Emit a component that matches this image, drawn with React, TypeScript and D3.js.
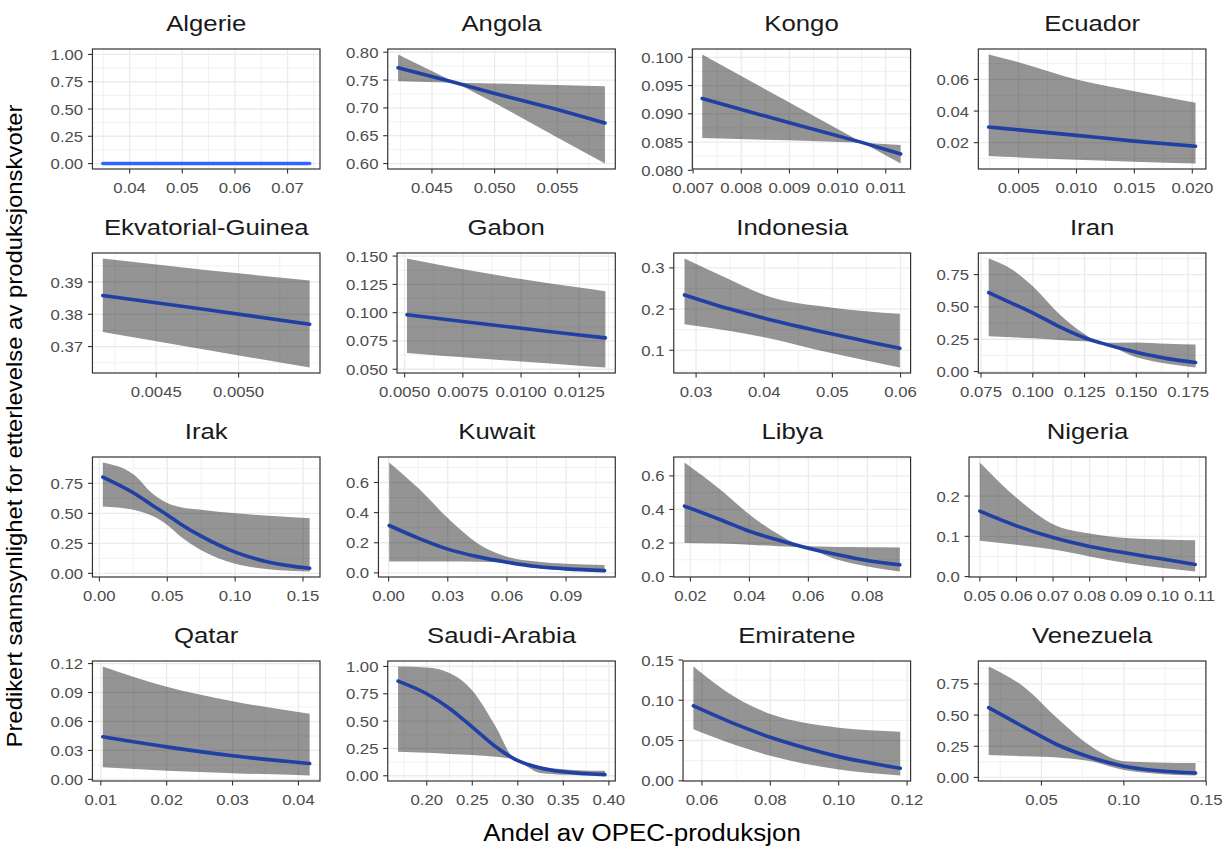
import React from "react";
import * as d3 from "d3";

// ---------------- data ----------------
const countries = [
  "Algerie", "Angola", "Kongo", "Ecuador",
  "Ekvatorial-Guinea", "Gabon", "Indonesia", "Iran",
  "Irak", "Kuwait", "Libya", "Nigeria",
  "Qatar", "Saudi-Arabia", "Emiratene", "Venezuela",
];

// Andel av OPEC-produksjon (x) per panel
const shareX: number[][] = [
  [0.0349, 0.0742],
  [0.0423, 0.0469, 0.050, 0.055, 0.0588],
  [0.00719, 0.009, 0.01052, 0.01131],
  [0.00242, 0.005, 0.010, 0.015, 0.02028],
  [0.004176, 0.0048, 0.005431],
  [0.0051, 0.0075, 0.0100, 0.0125, 0.01362],
  [0.0283, 0.035, 0.04, 0.05, 0.0599],
  [0.0787, 0.090, 0.100, 0.1125, 0.125, 0.1328, 0.150, 0.165, 0.1786],
  [0.0025, 0.025, 0.04, 0.05, 0.06, 0.075, 0.10, 0.125, 0.1549],
  [0.0003, 0.015, 0.03, 0.045, 0.06, 0.075, 0.09, 0.1095],
  [0.018, 0.03, 0.04, 0.05, 0.058, 0.07, 0.08, 0.091],
  [0.050, 0.06, 0.07, 0.08, 0.09, 0.10, 0.1088],
  [0.0103, 0.02, 0.03, 0.0417],
  [0.1685, 0.20, 0.225, 0.25, 0.275, 0.296, 0.325, 0.35, 0.3957],
  [0.0575, 0.07, 0.08, 0.09, 0.10, 0.118],
  [0.018, 0.04, 0.06, 0.08, 0.10, 0.12, 0.1435],
];

// predicted probability
const predicted: number[][] = [
  [0, 0],
  [0.772, 0.745, 0.726, 0.697, 0.673],
  [0.0927, 0.0884, 0.0849, 0.0829],
  [0.0299, 0.0281, 0.0246, 0.0210, 0.0177],
  [0.3858, 0.3815, 0.3769],
  [0.0982, 0.0922, 0.0862, 0.0803, 0.0777],
  [0.2344, 0.200, 0.178, 0.1395, 0.1048],
  [0.611, 0.528, 0.4545, 0.35, 0.262, 0.222, 0.149, 0.10, 0.0705],
  [0.802, 0.671, 0.56, 0.487, 0.41, 0.31, 0.177, 0.093, 0.042],
  [0.3145, 0.231, 0.158, 0.108, 0.071, 0.042, 0.027, 0.015],
  [0.42, 0.34, 0.27, 0.216, 0.178, 0.13, 0.096, 0.070],
  [0.1625, 0.126, 0.097, 0.075, 0.0585, 0.0435, 0.030],
  [0.0442, 0.0337, 0.0245, 0.0165],
  [0.866, 0.75, 0.616, 0.446, 0.27, 0.155, 0.071, 0.036, 0.01],
  [0.093, 0.07, 0.054, 0.041, 0.030, 0.0155],
  [0.56, 0.40, 0.26, 0.16, 0.09, 0.055, 0.035],
];

// lower confidence bound
const lowerBound: number[][] = [
  [0, 0],
  [0.748, 0.745, 0.709, 0.647, 0.600],
  [0.0857, 0.0853, 0.0849, 0.0812],
  [0.0116, 0.0107, 0.0092, 0.0079, 0.0068],
  [0.3745, 0.3690, 0.3635],
  [0.0643, 0.0605, 0.0568, 0.0531, 0.0515],
  [0.1630, 0.1467, 0.1318, 0.0925, 0.0581],
  [0.274, 0.265, 0.257, 0.245, 0.234, 0.222, 0.11, 0.06, 0.031],
  [0.557, 0.53, 0.473, 0.403, 0.304, 0.192, 0.080, 0.035, 0.015],
  [0.075, 0.075, 0.075, 0.074, 0.068, 0.032, 0.016, 0.009],
  [0.20, 0.197, 0.19, 0.18, 0.172, 0.10, 0.06, 0.03],
  [0.089, 0.079, 0.067, 0.050, 0.0335, 0.021, 0.0125],
  [0.0125, 0.009, 0.0065, 0.004],
  [0.22, 0.21, 0.20, 0.19, 0.175, 0.15, 0.025, 0.01, 0.002],
  [0.064, 0.044, 0.031, 0.021, 0.014, 0.0065],
  [0.18, 0.17, 0.16, 0.13, 0.06, 0.03, 0.015],
];

// upper confidence bound
const upperBound: number[][] = [
  [0, 0],
  [0.796, 0.745, 0.744, 0.741, 0.739],
  [0.1005, 0.0920, 0.0849, 0.0845],
  [0.0758, 0.0709, 0.0600, 0.0526, 0.0453],
  [0.3973, 0.3937, 0.3905],
  [0.1479, 0.1383, 0.1298, 0.1222, 0.1189],
  [0.3229, 0.271, 0.2344, 0.2035, 0.1889],
  [0.875, 0.79, 0.66, 0.45, 0.29, 0.222, 0.225, 0.215, 0.209],
  [0.924, 0.825, 0.656, 0.586, 0.55, 0.53, 0.50, 0.479, 0.459],
  [0.733, 0.563, 0.364, 0.197, 0.108, 0.075, 0.060, 0.053],
  [0.68, 0.52, 0.37, 0.25, 0.185, 0.176, 0.175, 0.174],
  [0.2835, 0.196, 0.13, 0.107, 0.096, 0.092, 0.090],
  [0.117, 0.096, 0.081, 0.068],
  [1.0, 0.99, 0.94, 0.78, 0.46, 0.16, 0.085, 0.06, 0.045],
  [0.142, 0.103, 0.083, 0.072, 0.066, 0.061],
  [0.89, 0.72, 0.47, 0.25, 0.13, 0.12, 0.115],
];

// y limits given explicitly (otherwise taken from the ribbon)
const fixedYLimits: (number[] | null)[] = [
  [0, 1], null, null, null, null, null, null, null,
  null, null, null, null, null, null, null, null,
];

const xTickLabels: string[][] = [
  ["0.04", "0.05", "0.06", "0.07"],
  ["0.045", "0.050", "0.055"],
  ["0.007", "0.008", "0.009", "0.010", "0.011"],
  ["0.005", "0.010", "0.015", "0.020"],
  ["0.0045", "0.0050"],
  ["0.0050", "0.0075", "0.0100", "0.0125"],
  ["0.03", "0.04", "0.05", "0.06"],
  ["0.075", "0.100", "0.125", "0.150", "0.175"],
  ["0.00", "0.05", "0.10", "0.15"],
  ["0.00", "0.03", "0.06", "0.09"],
  ["0.02", "0.04", "0.06", "0.08"],
  ["0.05", "0.06", "0.07", "0.08", "0.09", "0.10", "0.11"],
  ["0.01", "0.02", "0.03", "0.04"],
  ["0.20", "0.25", "0.30", "0.35", "0.40"],
  ["0.06", "0.08", "0.10", "0.12"],
  ["0.05", "0.10", "0.15"],
];

const yTickLabels: string[][] = [
  ["0.00", "0.25", "0.50", "0.75", "1.00"],
  ["0.60", "0.65", "0.70", "0.75", "0.80"],
  ["0.080", "0.085", "0.090", "0.095", "0.100"],
  ["0.02", "0.04", "0.06"],
  ["0.37", "0.38", "0.39"],
  ["0.050", "0.075", "0.100", "0.125", "0.150"],
  ["0.1", "0.2", "0.3"],
  ["0.00", "0.25", "0.50", "0.75"],
  ["0.00", "0.25", "0.50", "0.75"],
  ["0.0", "0.2", "0.4", "0.6"],
  ["0.0", "0.2", "0.4", "0.6"],
  ["0.0", "0.1", "0.2"],
  ["0.00", "0.03", "0.06", "0.09", "0.12"],
  ["0.00", "0.25", "0.50", "0.75", "1.00"],
  ["0.00", "0.05", "0.10", "0.15"],
  ["0.00", "0.25", "0.50", "0.75"],
];

const xAxisTitle = "Andel av OPEC-produksjon";
const yAxisTitle = "Predikert sannsynlighet for etterlevelse av produksjonskvoter";

// ---------------- layout / style ----------------
const W = 1225;
const H = 848;
const FONT = "'Liberation Sans', Arial, Helvetica, sans-serif";
const NCOL = 4;
const COL_BASE = 50.6;
const COL_STEP = 295.3;
const PANEL_RIGHT0 = 320;
const ROW_TOP0 = 49;
const ROW_STEP = 204;
const PANEL_H = 120;
const TICK_FS = 15.2;
const TEXT_SX = 1.1;
const TITLE_FS = 23;
const TITLE_SX = 1.12;
const YTITLE_FS = 21.3;
const XTITLE_FS = 23.2;
const TICK_LEN = 4.5;
// panels whose bands are drawn as straight segments
const straightBandPanels = new Set([1, 2, 4]);

const charEm = (c: string) => (c === "." ? 0.278 : c === "-" ? 0.333 : 0.556);
const labelWidth = (s: string) =>
  [...s].reduce((a, c) => a + charEm(c), 0) * TICK_FS * TEXT_SX;

function expand(lim: number[], m = 0.05): [number, number] {
  const d = (lim[1] - lim[0]) * m;
  return [lim[0] - d, lim[1] + d];
}

function minorBreaks(ticks: number[], domain: [number, number]) {
  if (ticks.length < 2) return [];
  const step = ticks[1] - ticks[0];
  const out: number[] = [];
  let v = ticks[0] - step / 2;
  while (v - step >= domain[0]) v -= step;
  for (; v <= domain[1] + 1e-12; v += step) {
    if (v >= domain[0]) out.push(v);
  }
  return out;
}

function Panel({ i }: { i: number }) {
  const col = i % NCOL;
  const row = Math.floor(i / NCOL);
  const ys = yTickLabels[i];
  const xt = xTickLabels[i];
  const maxW = d3.max(ys, labelWidth) as number;
  const left = COL_BASE + col * COL_STEP + maxW + 9.3;
  const right = PANEL_RIGHT0 + col * COL_STEP;
  const top = ROW_TOP0 + row * ROW_STEP;
  const bottom = top + PANEL_H;

  const xs = shareX[i];
  const fit = predicted[i];
  const lo = lowerBound[i];
  const hi = upperBound[i];
  const pts = xs.map((x, k) => ({ x, fit: fit[k], lo: lo[k], hi: hi[k] }));

  const xDom = expand(d3.extent(xs) as number[]);
  const yLim = fixedYLimits[i] ?? [d3.min(lo) as number, d3.max(hi) as number];
  const yDom = expand(yLim);
  const sx = d3.scaleLinear().domain(xDom).range([left, right]);
  const sy = d3.scaleLinear().domain(yDom).range([bottom, top]);

  const xMaj = xt.map(Number);
  const yMaj = ys.map(Number);
  const xMin = minorBreaks(xMaj, xDom);
  const yMin = minorBreaks(yMaj, yDom);

  const curve = straightBandPanels.has(i) ? d3.curveLinear : d3.curveMonotoneX;
  const area = d3
    .area<(typeof pts)[0]>()
    .x((d) => sx(d.x))
    .y0((d) => sy(d.lo))
    .y1((d) => sy(d.hi))
    .curve(curve);
  const line = d3
    .line<(typeof pts)[0]>()
    .x((d) => sx(d.x))
    .y((d) => sy(d.fit))
    .curve(curve);
  const hasRibbon = pts.some((p) => p.hi - p.lo > 1e-9);
  const clipId = `clip-${i}`;

  return (
    <g>
      <defs>
        <clipPath id={clipId}>
          <rect x={left} y={top} width={right - left} height={bottom - top} />
        </clipPath>
      </defs>
      <rect x={left} y={top} width={right - left} height={bottom - top} fill="#fff" />
      <g clipPath={`url(#${clipId})`}>
        {xMin.map((v, k) => (
          <line key={`xm${k}`} x1={sx(v)} x2={sx(v)} y1={top} y2={bottom} stroke="#EBEBEB" strokeWidth={0.7} />
        ))}
        {yMin.map((v, k) => (
          <line key={`ym${k}`} x1={left} x2={right} y1={sy(v)} y2={sy(v)} stroke="#EBEBEB" strokeWidth={0.7} />
        ))}
        {xMaj.map((v, k) => (
          <line key={`xM${k}`} x1={sx(v)} x2={sx(v)} y1={top} y2={bottom} stroke="#EBEBEB" strokeWidth={1.3} />
        ))}
        {yMaj.map((v, k) => (
          <line key={`yM${k}`} x1={left} x2={right} y1={sy(v)} y2={sy(v)} stroke="#EBEBEB" strokeWidth={1.3} />
        ))}
        {hasRibbon && <path d={area(pts) ?? ""} fill="#000" fillOpacity={0.42} />}
        <path
          d={line(pts) ?? ""}
          fill="none"
          stroke={hasRibbon ? "#2140A3" : "#2F66FF"}
          strokeWidth={3.6}
          strokeLinecap="round"
        />
      </g>
      <rect x={left} y={top} width={right - left} height={bottom - top} fill="none" stroke="#333333" strokeWidth={1.2} />
      {xMaj.map((v, k) => (
        <g key={`xt${k}`}>
          <line x1={sx(v)} x2={sx(v)} y1={bottom} y2={bottom + TICK_LEN} stroke="#333333" strokeWidth={1.1} />
          <text
            transform={`translate(${sx(v)},${bottom + 23.5}) scale(${TEXT_SX},1)`}
            textAnchor="middle"
            fontSize={TICK_FS}
            fill="#4D4D4D"
          >
            {xt[k]}
          </text>
        </g>
      ))}
      {yMaj.map((v, k) => (
        <g key={`yt${k}`}>
          <line x1={left - TICK_LEN} x2={left} y1={sy(v)} y2={sy(v)} stroke="#333333" strokeWidth={1.1} />
          <text
            transform={`translate(${left - 9.3},${sy(v) + 5.5}) scale(${TEXT_SX},1)`}
            textAnchor="end"
            fontSize={TICK_FS}
            fill="#4D4D4D"
          >
            {ys[k]}
          </text>
        </g>
      ))}
      <text
        transform={`translate(${(left + right) / 2},${top - 18}) scale(${TITLE_SX},1)`}
        textAnchor="middle"
        fontSize={TITLE_FS}
        fill="#1A1A1A"
      >
        {countries[i]}
      </text>
    </g>
  );
}

export default function App() {
  return (
    <svg
      width={W}
      height={H}
      viewBox={`0 0 ${W} ${H}`}
      style={{ position: "absolute", left: 0, top: 0, background: "#fff" }}
      fontFamily={FONT}
    >
      <rect x={0} y={0} width={W} height={H} fill="#fff" />
      {countries.map((_, i) => (
        <Panel key={i} i={i} />
      ))}
      <text
        transform={`translate(642,841) scale(${TITLE_SX},1)`}
        textAnchor="middle"
        fontSize={XTITLE_FS}
        fill="#000"
      >
        {xAxisTitle}
      </text>
      <text
        transform={`translate(21.5,426) rotate(-90) scale(${TITLE_SX},1)`}
        textAnchor="middle"
        fontSize={YTITLE_FS}
        fill="#000"
      >
        {yAxisTitle}
      </text>
    </svg>
  );
}
